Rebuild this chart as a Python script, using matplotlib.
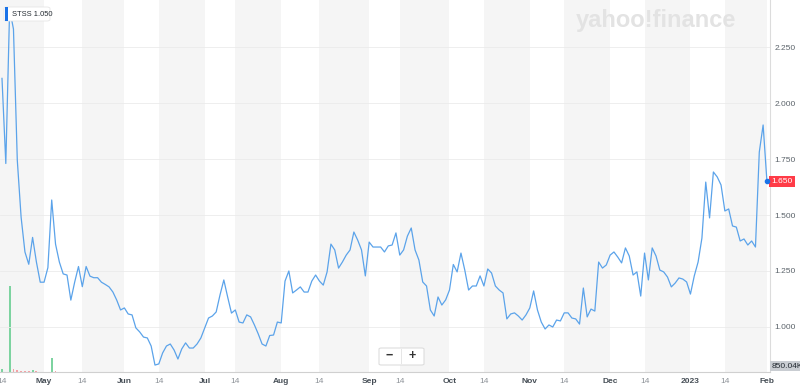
import matplotlib
matplotlib.use("Agg")
import matplotlib.pyplot as plt
from matplotlib.patches import FancyBboxPatch, Rectangle
import pandas as pd

# trading days Apr 14 2022 .. Feb 1 2023
holidays = ["2022-04-15", "2022-05-30", "2022-06-20", "2022-07-04",
            "2022-09-05", "2022-11-24", "2022-12-26", "2023-01-02",
            "2023-01-16"]
dates = pd.bdate_range("2022-04-14", "2023-02-01", freq="C", holidays=holidays)

closes = [
    2.11, 1.73, 2.42, 2.33, 1.745, 1.49, 1.335, 1.28, 1.40, 1.29,
    1.20, 1.20, 1.265, 1.567, 1.37, 1.29, 1.237, 1.232, 1.12, 1.20,
    1.27, 1.18, 1.27, 1.227, 1.22, 1.22, 1.20, 1.19, 1.179, 1.156,
    1.12, 1.076, 1.085, 1.058, 1.054, 0.996, 0.978, 0.955, 0.951, 0.915,
    0.83, 0.835, 0.884, 0.915, 0.924, 0.897, 0.857, 0.902, 0.929, 0.906,
    0.906, 0.924, 0.951, 0.996, 1.04, 1.049, 1.067, 1.143, 1.21, 1.134,
    1.062, 1.076, 1.022, 1.018, 1.054, 1.045, 1.009, 0.969, 0.924, 0.915,
    0.962, 0.964, 1.022, 1.018, 1.205, 1.25, 1.152, 1.165, 1.179, 1.156,
    1.156, 1.205, 1.232, 1.205, 1.187, 1.246, 1.37, 1.344, 1.263, 1.29,
    1.321, 1.344, 1.424, 1.388, 1.344, 1.228, 1.379, 1.357, 1.357, 1.357,
    1.335, 1.362, 1.366, 1.42, 1.321, 1.344, 1.406, 1.442, 1.344, 1.299,
    1.201, 1.183, 1.076, 1.049, 1.134, 1.098, 1.121, 1.165, 1.279, 1.246,
    1.33, 1.254, 1.165, 1.183, 1.183, 1.228, 1.183, 1.259, 1.241, 1.183,
    1.165, 1.152, 1.036, 1.058, 1.063, 1.049, 1.031, 1.054, 1.085, 1.161,
    1.076, 1.022, 0.991, 1.009, 1.0, 1.031, 1.027, 1.063, 1.063, 1.04,
    1.036, 1.013, 1.174, 1.045, 1.08, 1.071, 1.29, 1.263, 1.277, 1.321,
    1.335, 1.312, 1.286, 1.353, 1.317, 1.232, 1.246, 1.138, 1.33, 1.21,
    1.353, 1.317, 1.254, 1.246, 1.223, 1.179, 1.196, 1.219, 1.214, 1.201,
    1.147, 1.228, 1.29, 1.397, 1.647, 1.487, 1.692, 1.67, 1.634, 1.518,
    1.527, 1.451, 1.446, 1.384, 1.393, 1.366, 1.384, 1.357, 1.781, 1.902,
    1.650,
]

# visible volume bars (trading day index, volume in K)
vol_days = [0, 2, 3, 4, 5, 6, 7, 8, 9, 13, 14]
vol_k = [500, 14600, 500, 350, 250, 250, 250, 420, 250, 2400, 170]

y_ticks = [1.0, 1.25, 1.5, 1.75, 2.0, 2.25]
month_names = {5: "May", 6: "Jun", 7: "Jul", 8: "Aug", 9: "Sep", 10: "Oct",
               11: "Nov", 12: "Dec", 1: "2023", 2: "Feb"}

LINE = "#5ba3ea"
BAND = "#f5f5f5"
GRID = "#ebebeb"

plt.rcParams["font.family"] = ["Liberation Sans", "DejaVu Sans"]

x = list(range(len(dates)))

# tick positions: first trading day of a month and first day >= 14th
month_ticks, mid_ticks = [], []
for i, d in enumerate(dates):
    if i > 0 and d.month != dates[i - 1].month:
        month_ticks.append(i)
    if d.day >= 14 and (i == 0 or dates[i - 1].day < 14 or d.month != dates[i - 1].month):
        mid_ticks.append(i)

fig = plt.figure(figsize=(8, 3.86), dpi=100)
ax = fig.add_axes([0, 1 - 372 / 386, 770 / 800, 372 / 386])
xmax = len(x) - 1 + 0.8
ax.set_xlim(-0.52, xmax)
ax.set_ylim(0.799, 2.46)

# volume on its own scale, drawn underneath the price axes
vax = ax.twinx()
vax.set_ylim(0, 63240)

# grey bands from the 14th to the next month start
for m in mid_ticks:
    nxt = [t for t in month_ticks if t > m]
    end = nxt[0] if nxt else xmax
    vax.axvspan(m if m > 0 else -1, end, color=BAND, lw=0, zorder=0)

vcol = []
for i in vol_days:
    up = i == 0 or closes[i] >= closes[i - 1]
    vcol.append("#7dd3a0" if up else "#f4a0a4")
vax.bar(vol_days, vol_k, width=0.5, color=vcol, zorder=2)
vax.set_yticks([])
for s in vax.spines.values():
    s.set_visible(False)

ax.set_zorder(vax.get_zorder() + 1)
ax.patch.set_visible(False)
for v in y_ticks:
    ax.axhline(v, color=GRID, lw=0.6, zorder=1)
ax.plot(x, closes, color=LINE, lw=0.9, zorder=3)
ax.plot([x[-1]], [closes[-1]], "o", color="#1a73e8", ms=3, zorder=4)

# axes styling
for s in ["top", "left"]:
    ax.spines[s].set_visible(False)
ax.spines["right"].set_color("#dcdcdc")
ax.spines["bottom"].set_color("#d0d0d0")
ax.spines["right"].set_linewidth(0.8)
ax.spines["bottom"].set_linewidth(0.8)

ax.yaxis.tick_right()
ax.set_yticks(y_ticks)
ax.set_yticklabels(["%.3f" % v for v in y_ticks])
ax.tick_params(axis="y", length=0, pad=3, labelsize=6, labelcolor="#5b636a")

ticks = sorted(month_ticks + mid_ticks)
labels = []
for t in ticks:
    labels.append(month_names[dates[t].month] if t in month_ticks else "14")
ax.set_xticks(ticks)
ax.set_xticklabels(labels)
ax.tick_params(axis="x", length=0, pad=4, labelsize=6)
for t, lab in zip(ticks, ax.get_xticklabels()):
    if t in month_ticks:
        lab.set_color("#464e56")
        lab.set_fontweight("bold")
    else:
        lab.set_color("#8d9298")

# current price label
ax.text(1.002, closes[-1], "%.3f" % closes[-1], transform=ax.get_yaxis_transform(),
        fontsize=6, color="white", va="center", ha="left",
        bbox=dict(boxstyle="square,pad=0.25", fc="#ff3b47", ec="none"))
# volume label
fig.text(772 / 800, 1 - 366 / 386, "850.04K", fontsize=6, color="#232a31",
         va="center", ha="left",
         bbox=dict(boxstyle="square,pad=0.2", fc="#c9cdd2", ec="none"))

# legend chip
fig.add_artist(FancyBboxPatch((4 / 800, 1 - 21 / 386), 46 / 800, 14 / 386,
                              boxstyle="round,pad=0,rounding_size=0.004",
                              transform=fig.transFigure, fc="white",
                              ec="#e6e6e6", lw=0.6, zorder=10))
fig.add_artist(Rectangle((5 / 800, 1 - 21 / 386), 3 / 800, 14 / 386,
                         transform=fig.transFigure, fc="#1a73e8", ec="none",
                         zorder=11))
fig.text(12 / 800, 1 - 14 / 386, "STSS 1.050", fontsize=5.4, color="#232a31",
         va="center", ha="left", zorder=12)

# watermark
fig.text(656 / 800, 1 - 20 / 386, "yahoo!finance", fontsize=17,
         fontweight="bold", color="#e3e3e3", ha="center", va="center")

# zoom buttons
fig.add_artist(FancyBboxPatch((379 / 800, 1 - 365 / 386), 45 / 800, 17 / 386,
                              boxstyle="round,pad=0,rounding_size=0.003",
                              transform=fig.transFigure, fc="white",
                              ec="#dddddd", lw=0.8, zorder=10))
fig.add_artist(Rectangle((401 / 800, 1 - 364 / 386), 0.6 / 800, 15 / 386,
                         transform=fig.transFigure, fc="#e6e6e6", ec="none",
                         zorder=11))
fig.text(389 / 800, 1 - 356 / 386, "\u2212", fontsize=9, color="#333333",
         fontweight="bold", ha="center", va="center", zorder=12)
fig.text(412 / 800, 1 - 356 / 386, "+", fontsize=9, color="#333333",
         fontweight="bold", ha="center", va="center", zorder=12)

fig.savefig("out.png", dpi=100)
